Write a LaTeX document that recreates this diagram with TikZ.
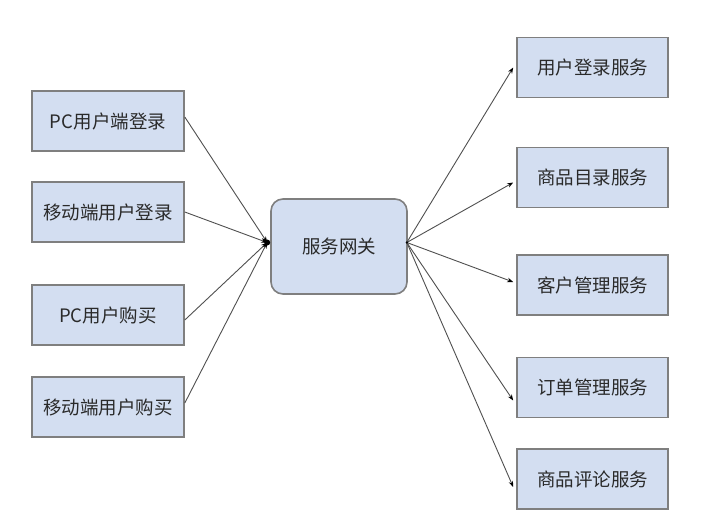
\documentclass[tikz,border=0pt]{standalone}
\usepackage{fontspec}
\setmainfont{Liberation Sans}
\newfontfamily\cjk{Noto Sans CJK SC}
\usetikzlibrary{arrows.meta,calc}
\definecolor{boxfill}{HTML}{D3DEF1}
\definecolor{boxline}{HTML}{7F7F7F}
\definecolor{txt}{HTML}{2A2A2A}
\definecolor{conn}{HTML}{505050}
\begin{document}
\begin{tikzpicture}[x=1pt,y=-1pt,
  sbox/.style={draw=boxline,line width=1.6pt,fill=boxfill,minimum width=152pt,minimum height=60pt,inner sep=0pt,text=txt,font=\fontsize{18.5}{21}\selectfont\cjk},
  gwbox/.style={sbox,rounded corners=12pt,minimum width=136pt,minimum height=95pt},
  conn/.style={draw=conn,line width=0.9pt,-{Stealth[length=6pt,width=4.5pt,color=black]}}]
\useasboundingbox (0,0) rectangle (701,517);
\fill[white] (0,0) rectangle (701,517);
% left boxes
\node[sbox] (L1) at (108,121) {PC用户端登录};
\node[sbox] (L2) at (108,212) {移动端用户登录};
\node[sbox] (L3) at (108,315) {PC用户购买};
\node[sbox] (L4) at (108,407) {移动端用户购买};
% gateway
\node[gwbox] (G) at (339,246.5) {服务网关};
% right boxes
\node[sbox,minimum width=151pt] (R1) at (592.5,67.5) {用户登录服务};
\node[sbox,minimum width=151pt] (R2) at (592.5,177.5) {商品目录服务};
\node[sbox,minimum width=151pt] (R3) at (592.5,285) {客户管理服务};
\node[sbox,minimum width=151pt] (R4) at (592.5,387.5) {订单管理服务};
\node[sbox,minimum width=151pt] (R5) at (592.5,479) {商品评论服务};
% connection points
\coordinate (gl) at ([xshift=-3pt,yshift=4pt]G.west);
\coordinate (gr) at ([xshift=-1pt,yshift=4pt]G.east);
\coordinate (l1) at ([yshift=4pt]L1.east);
\coordinate (l2) at (L2.east);
\coordinate (l3) at ([yshift=-5pt]L3.east);
\coordinate (l4) at ([yshift=4pt]L4.east);
\coordinate (r1) at ([xshift=-3pt]R1.west);
\coordinate (r2) at ([xshift=-3pt,yshift=-5pt]R2.west);
\coordinate (r3) at ([xshift=-3pt,yshift=3pt]R3.west);
\coordinate (r4) at ([xshift=-3pt,yshift=-13pt]R4.west);
\coordinate (r5) at ([xshift=-3pt,yshift=-8pt]R5.west);
% connectors
\foreach \s in {l1,l2,l3,l4} \draw[conn] (\s) -- (gl);
\foreach \t in {r1,r2,r3,r4,r5} \draw[conn] (gr) -- (\t);
\fill[black] (gl) circle (3pt);
\fill[black] (gr) circle (1.3pt);
\end{tikzpicture}
\end{document}
